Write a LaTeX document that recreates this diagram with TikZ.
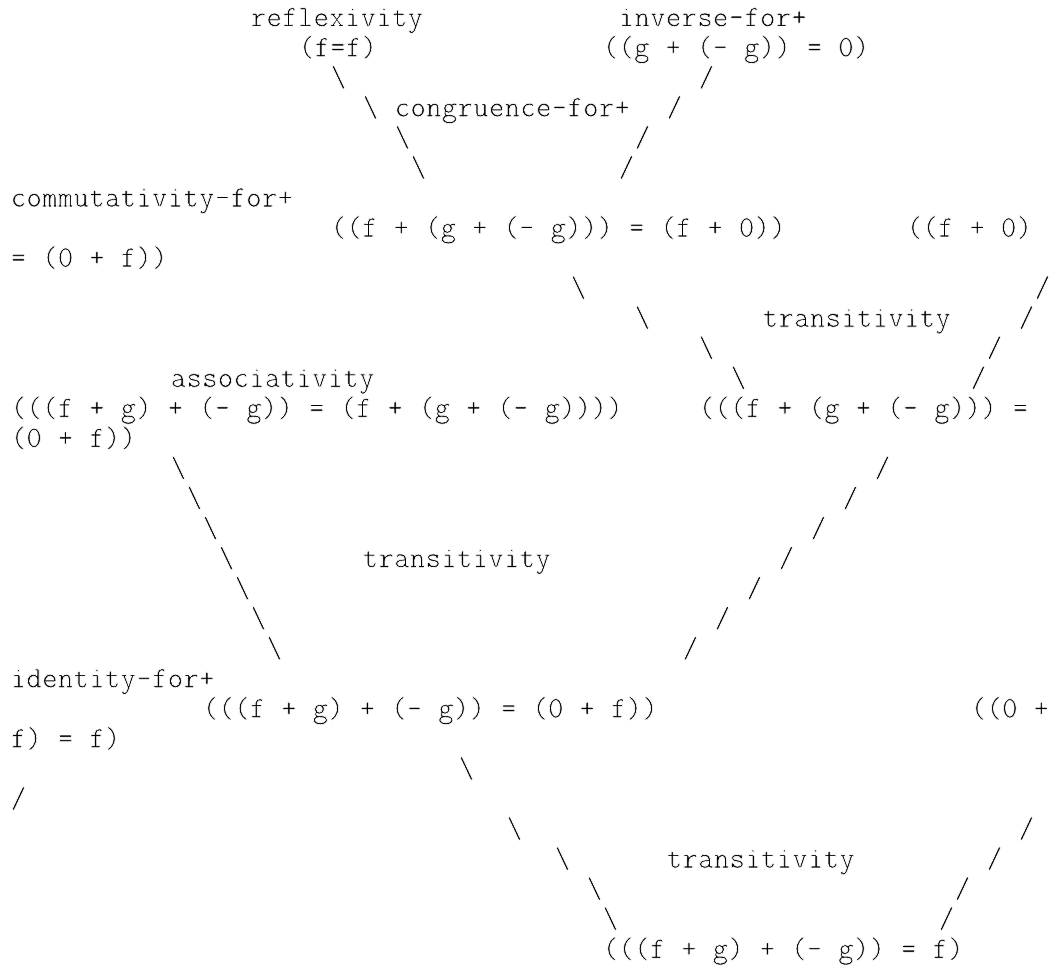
\documentclass[tikz,border=0pt]{standalone}
\usepackage{fontspec}
\tikzset{
  txt/.style={inner sep=0pt, outer sep=0pt, anchor=base west,
    font=\fontsize{30.48bp}{36bp}\ttfamily, text=black}
}
% thin the glyph strokes a little (white outline stroke inside the glyphs)
\newcommand\thinglyphs{\special{pdf:literal direct 2 Tr 1 G 0.6 w}}
% place text at a monospace grid cell: name, column, row, text
\newcommand\putat[4]{\node[txt] (#1) at ({10.6+16*#2},{-26.5-30.05*#3}) {\thinglyphs #4};}
\newcommand\bs{\textbackslash}
\begin{document}
\begin{tikzpicture}[x=1bp,y=1bp]
\fill[white] (0,0) rectangle (1051,-967);
\useasboundingbox (0,0) rectangle (1051,-967);
% row 0-1
\putat{refl}{15}{0}{reflexivity}
\putat{inv}{38}{0}{inverse-for+}
\putat{ff}{18}{1}{(f=f)}
\putat{gg}{37}{1}{((g + (- g)) = 0)}
% rows 2-5
\putat{a2}{20}{2}{\bs}
\putat{b2}{43}{2}{/}
\putat{a3}{22}{3}{\bs}
\putat{cong}{24}{3}{congruence-for+}
\putat{b3}{41}{3}{/}
\putat{a4}{24}{4}{\bs}
\putat{b4}{39}{4}{/}
\putat{a5}{25}{5}{\bs}
\putat{b5}{38}{5}{/}
% rows 6-8
\putat{comm}{0}{6}{commutativity-for+}
\putat{fg0}{20}{7}{((f + (g + (- g))) = (f + 0))}
\putat{f0a}{56}{7}{((f + 0)}
\putat{f0b}{0}{8}{= (0 + f))}
% rows 9-12
\putat{a9}{35}{9}{\bs}
\putat{b9}{64}{9}{/}
\putat{a10}{39}{10}{\bs}
\putat{tr1}{47}{10}{transitivity}
\putat{b10}{63}{10}{/}
\putat{a11}{43}{11}{\bs}
\putat{b11}{61}{11}{/}
\putat{assoc}{10}{12}{associativity}
\putat{a12}{45}{12}{\bs}
\putat{b12}{60}{12}{/}
% rows 13-14
\putat{asf}{0}{13}{(((f + g) + (- g)) = (f + (g + (- g))))}
\putat{t1a}{43}{13}{(((f + (g + (- g))) =}
\putat{t1b}{0}{14}{(0 + f))}
% rows 15-21
\putat{a15}{10}{15}{\bs}
\putat{b15}{54}{15}{/}
\putat{a16}{11}{16}{\bs}
\putat{b16}{52}{16}{/}
\putat{a17}{12}{17}{\bs}
\putat{b17}{50}{17}{/}
\putat{a18}{13}{18}{\bs}
\putat{tr2}{22}{18}{transitivity}
\putat{b18}{48}{18}{/}
\putat{a19}{14}{19}{\bs}
\putat{b19}{46}{19}{/}
\putat{a20}{15}{20}{\bs}
\putat{b20}{44}{20}{/}
\putat{a21}{16}{21}{\bs}
\putat{b21}{42}{21}{/}
% rows 22-24
\putat{ident}{0}{22}{identity-for+}
\putat{t2}{12}{23}{(((f + g) + (- g)) = (0 + f))}
\putat{idfa}{60}{23}{((0 +}
\putat{idfb}{0}{24}{f) = f)}
% rows 25-30
\putat{a25}{28}{25}{\bs}
\putat{b25}{0}{26}{/}
\putat{a27}{31}{27}{\bs}
\putat{b27}{63}{27}{/}
\putat{a28}{34}{28}{\bs}
\putat{tr3}{41}{28}{transitivity}
\putat{b28}{61}{28}{/}
\putat{a29}{36}{29}{\bs}
\putat{b29}{59}{29}{/}
\putat{a30}{37}{30}{\bs}
\putat{b30}{58}{30}{/}
% row 31
\putat{res}{37}{31}{(((f + g) + (- g)) = f)}
\end{tikzpicture}
\end{document}
